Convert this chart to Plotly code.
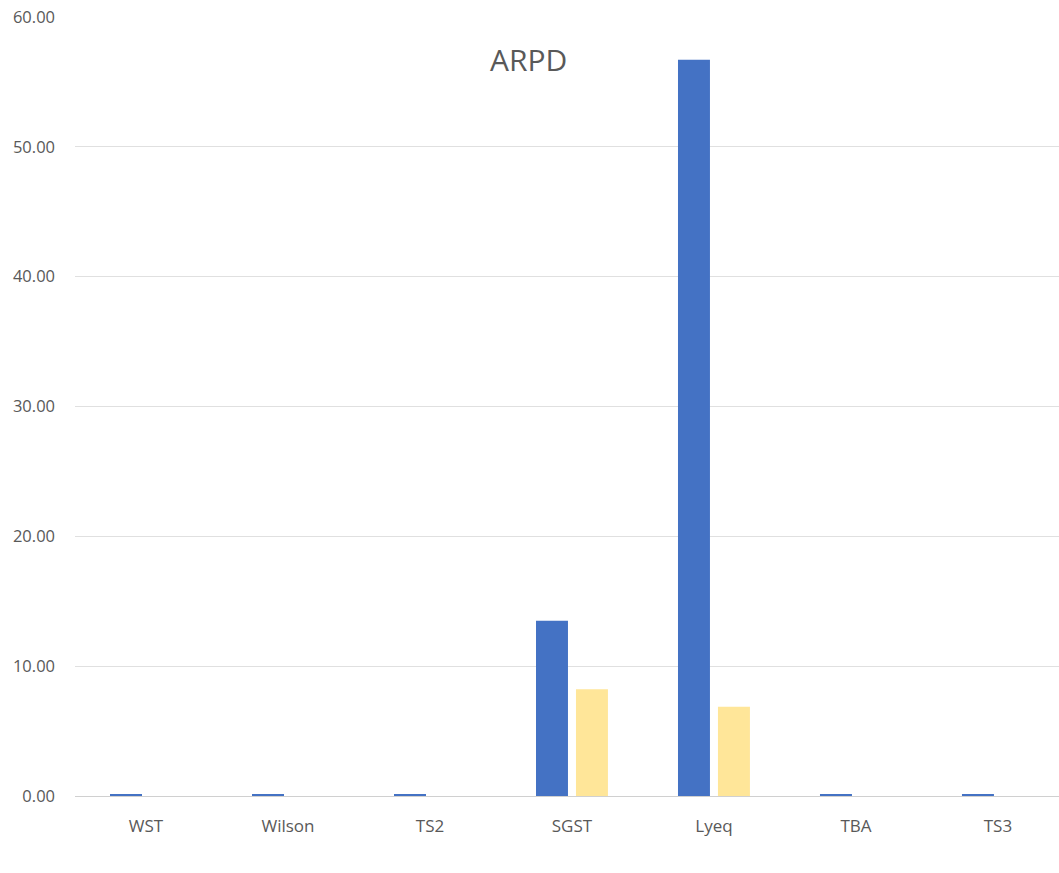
import plotly.graph_objects as go

categories = ["WST", "Wilson", "TS2", "SGST", "Lyeq", "TBA", "TS3"]
series_a = [0.12, 0.12, 0.12, 13.50, 56.70, 0.12, 0.12]
series_b = [0.0, 0.0, 0.0, 8.22, 6.88, 0.0, 0.0]
y_ticks = [0, 10, 20, 30, 40, 50, 60]
y_tick_labels = ["0.00", "10.00", "20.00", "30.00", "40.00", "50.00", "60.00"]

font_family = "Open Sans, Liberation Sans, sans-serif"
text_grey = "#595959"

fig = go.Figure()
fig.add_trace(go.Bar(x=categories, y=series_a, marker=dict(color="#4472C4", line=dict(width=0))))
fig.add_trace(go.Bar(x=categories, y=series_b, marker=dict(color="#FFE699", line=dict(width=0))))

fig.update_layout(
    width=1059,
    height=873,
    margin=dict(l=75, r=0, t=17, b=77),
    paper_bgcolor="white",
    plot_bgcolor="white",
    showlegend=False,
    barmode="group",
    bargap=0.437,
    bargroupgap=0.2,
    font=dict(family=font_family, color=text_grey, size=16),
)

fig.update_xaxes(
    range=[-0.5, 6.43],
    showgrid=False,
    showline=True,
    linecolor="#d0d0d0",
    linewidth=1,
    ticks="",
    tickfont=dict(size=17, color=text_grey),
    ticklabelstandoff=15,
)
fig.update_yaxes(
    range=[0, 60],
    tickvals=y_ticks,
    ticktext=y_tick_labels,
    showgrid=True,
    gridcolor="#e0e0e0",
    gridwidth=1.3,
    zeroline=False,
    showline=False,
    ticks="",
    tickfont=dict(size=16.5, color=text_grey),
    ticklabelstandoff=19,
)

fig.add_annotation(
    text="ARPD",
    xref="paper", yref="paper",
    x=(528 - 75) / 984, y=(796 - 60) / 779,
    xanchor="center", yanchor="middle",
    showarrow=False,
    font=dict(size=30, color=text_grey, family=font_family),
)

fig.add_annotation(
    text="Fluid Model",
    xref="paper", yref="paper",
    x=(571 - 75) / 984, y=(796 - 866) / 779,
    xanchor="center", yanchor="top",
    showarrow=False,
    font=dict(size=17, color=text_grey, family=font_family),
)

fig.write_html("out.html")
